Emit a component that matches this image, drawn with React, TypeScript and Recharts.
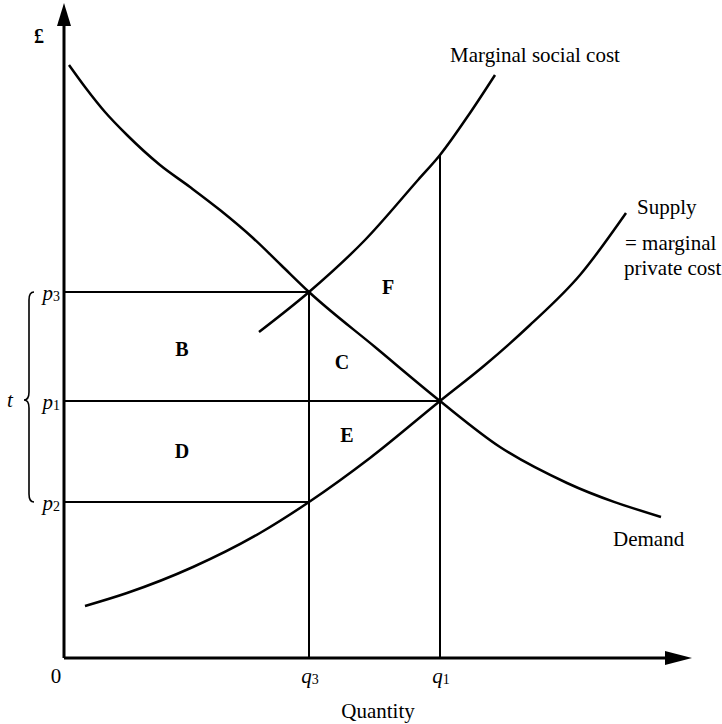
import React from 'react';
import { LineChart, Line, XAxis, YAxis, ReferenceLine, ReferenceDot } from 'recharts';

// Coordinates: q = quantity, p = price (£)
const demand = [
  { q: 5, p: 593 }, { q: 21, p: 571 }, { q: 41, p: 546 }, { q: 63, p: 523 },
  { q: 96, p: 493 }, { q: 126, p: 471 }, { q: 156, p: 448 }, { q: 189, p: 420 },
  { q: 217, p: 393 }, { q: 245, p: 366 }, { q: 311, p: 311 }, { q: 376, p: 257 },
  { q: 436, p: 211 }, { q: 503, p: 175 }, { q: 597, p: 141 },
];
const supply = [
  { q: 21, p: 52 }, { q: 63, p: 65 }, { q: 129, p: 91 }, { q: 196, p: 125 },
  { q: 245, p: 156 }, { q: 306, p: 200 }, { q: 376, p: 257 }, { q: 421, p: 293 },
  { q: 466, p: 333 }, { q: 516, p: 383 }, { q: 562, p: 445 },
];
const socialCost = [
  { q: 195, p: 326 }, { q: 245, p: 366 }, { q: 301, p: 418 }, { q: 354, p: 478 },
  { q: 376, p: 503 }, { q: 406, p: 545 }, { q: 431, p: 583 },
];

const Q_MAX = 628;
const P_MAX = 655;
const q3 = 245;
const q1 = 376;
const p3 = 366;
const p1 = 257;
const p2 = 156;
const mscAtQ1 = 503;

const xTicks = [0, q3, q1];
const xTickLabels = ['0', 'q3', 'q1'];
const yTicks = [p3, p1, p2];
const yTickLabels = ['p3', 'p1', 'p2'];

const areaLetters = [
  { label: 'B', q: 118, p: 309 },
  { label: 'D', q: 118, p: 207 },
  { label: 'C', q: 278, p: 296 },
  { label: 'E', q: 283, p: 223 },
  { label: 'F', q: 324, p: 371 },
];

const captions = [
  { text: 'Marginal social cost', q: 471, p: 596, anchor: 'middle' },
  { text: 'Supply', q: 573, p: 444, anchor: 'start' },
  { text: '= marginal', q: 561, p: 408, anchor: 'start' },
  { text: 'private cost', q: 560, p: 383, anchor: 'start' },
  { text: 'Demand', q: 549, p: 112, anchor: 'start' },
  { text: 'Quantity', q: 314, p: -60, anchor: 'middle' },
];

const FONT = '"Liberation Serif", "Times New Roman", serif';

const SubLabel = (label: string) => {
  const main = label.charAt(0);
  const sub = label.slice(1);
  const italic = main !== '0';
  return (
    <>
      <tspan fontStyle={italic ? 'italic' : 'normal'}>{main}</tspan>
      {sub ? <tspan fontSize={14} dy={1}>{sub}</tspan> : null}
    </>
  );
};

const Brace = (props: any) => {
  const { x1, y1, y2 } = props;
  const bx = x1 - 35;
  const top = Math.min(y1, y2);
  const bot = Math.max(y1, y2);
  const ym = (top + bot) / 2 + 3;
  const d = `M ${bx + 5} ${top} Q ${bx} ${top} ${bx} ${top + 8} L ${bx} ${ym - 8} Q ${bx} ${ym} ${bx - 5} ${ym} Q ${bx} ${ym} ${bx} ${ym + 8} L ${bx} ${bot - 8} Q ${bx} ${bot} ${bx + 5} ${bot}`;
  return (
    <g>
      <path d={d} fill="none" stroke="#000" strokeWidth={1.6} />
      <text x={bx - 19} y={ym + 7} textAnchor="middle" fontFamily={FONT} fontSize={21} fontStyle="italic" fill="#000">t</text>
    </g>
  );
};

const UpArrow = (props: any) => {
  const { cx, cy } = props;
  return <polygon points={`${cx},${cy} ${cx - 7},${cy + 23} ${cx + 7},${cy + 23}`} fill="#000" />;
};
const RightArrow = (props: any) => {
  const { cx, cy } = props;
  return <polygon points={`${cx},${cy} ${cx - 27},${cy - 7} ${cx - 27},${cy + 7}`} fill="#000" />;
};

export default function App() {
  return (
    <div style={{ width: 722, height: 724, background: '#fff' }}>
      <style>{'html,body{margin:0;padding:0;overflow:hidden;background:#fff}'}</style>
      <LineChart width={722} height={724} margin={{ top: 3, left: 64, right: 30, bottom: 66 }}>
        <XAxis type="number" dataKey="q" domain={[0, Q_MAX]} allowDataOverflow hide />
        <YAxis type="number" domain={[0, P_MAX]} allowDataOverflow hide />

        {/* axes */}
        <ReferenceLine segment={[{ x: 0, y: 0 }, { x: 0, y: P_MAX - 10 }]} stroke="#000" strokeWidth={3} ifOverflow="visible" />
        <ReferenceLine segment={[{ x: 0, y: 0 }, { x: Q_MAX - 15, y: 0 }]} stroke="#000" strokeWidth={3} ifOverflow="visible" />
        <ReferenceDot x={0} y={P_MAX} r={0} ifOverflow="visible" shape={<UpArrow />} />
        <ReferenceDot x={Q_MAX} y={0} r={0} ifOverflow="visible" shape={<RightArrow />} />

        {/* guide lines */}
        <ReferenceLine segment={[{ x: 0, y: p3 }, { x: q3, y: p3 }]} stroke="#000" strokeWidth={2} ifOverflow="visible" />
        <ReferenceLine segment={[{ x: 0, y: p1 }, { x: q1, y: p1 }]} stroke="#000" strokeWidth={2} ifOverflow="visible" />
        <ReferenceLine segment={[{ x: 0, y: p2 }, { x: q3, y: p2 }]} stroke="#000" strokeWidth={2} ifOverflow="visible" />
        <ReferenceLine segment={[{ x: q3, y: 0 }, { x: q3, y: p3 }]} stroke="#000" strokeWidth={2} ifOverflow="visible" />
        <ReferenceLine segment={[{ x: q1, y: 0 }, { x: q1, y: mscAtQ1 }]} stroke="#000" strokeWidth={2} ifOverflow="visible" />
        <ReferenceLine segment={[{ x: 0, y: p3 }, { x: 0, y: p2 }]} ifOverflow="visible" shape={<Brace />} />

        <Line data={demand} dataKey="p" type="monotone" stroke="#000" strokeWidth={2.5} dot={false} isAnimationActive={false} />
        <Line data={supply} dataKey="p" type="monotone" stroke="#000" strokeWidth={2.5} dot={false} isAnimationActive={false} />
        <Line data={socialCost} dataKey="p" type="monotone" stroke="#000" strokeWidth={2.5} dot={false} isAnimationActive={false} />

        {/* tick labels */}
        {xTicks.map((v, i) => (
          <ReferenceDot
            key={'x' + v}
            x={v}
            y={0}
            r={0}
            ifOverflow="visible"
            shape={(pr: any) => (
              <text x={v === 0 ? pr.cx - 8 : pr.cx + 1} y={pr.cy + 25} textAnchor="middle" fontFamily={FONT} fontSize={21} fill="#000">
                {SubLabel(xTickLabels[i])}
              </text>
            )}
          />
        ))}
        {yTicks.map((v, i) => (
          <ReferenceDot
            key={'y' + v}
            x={0}
            y={v}
            r={0}
            ifOverflow="visible"
            shape={(pr: any) => (
              <text x={pr.cx - 4} y={pr.cy + 8} textAnchor="end" fontFamily={FONT} fontSize={21} fill="#000">
                {SubLabel(yTickLabels[i])}
              </text>
            )}
          />
        ))}

        <ReferenceDot
          x={-25}
          y={615}
          r={0}
          ifOverflow="visible"
          shape={(pr: any) => (
            <text x={pr.cx} y={pr.cy} textAnchor="middle" fontFamily={FONT} fontSize={20} fontWeight="bold" fill="#000">£</text>
          )}
        />

        {areaLetters.map((a) => (
          <ReferenceDot
            key={a.label}
            x={a.q}
            y={a.p}
            r={0}
            ifOverflow="visible"
            shape={(pr: any) => (
              <text x={pr.cx} y={pr.cy + 7} textAnchor="middle" fontFamily={FONT} fontSize={20} fontWeight="bold" fill="#000">
                {a.label}
              </text>
            )}
          />
        ))}

        {captions.map((c) => (
          <ReferenceDot
            key={c.text}
            x={c.q}
            y={c.p}
            r={0}
            ifOverflow="visible"
            shape={(pr: any) => (
              <text x={pr.cx} y={pr.cy} textAnchor={c.anchor as any} fontFamily={FONT} fontSize={21} fill="#000">
                {c.text}
              </text>
            )}
          />
        ))}
      </LineChart>
    </div>
  );
}
